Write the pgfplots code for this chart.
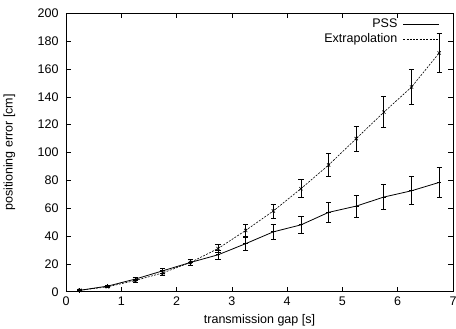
\documentclass[border=0pt]{standalone}
\usepackage{fontspec}
\setmainfont{Liberation Sans}
\usepackage{pgfplots}
\usepackage{pgfplotstable}
\pgfplotsset{compat=1.18}
\pgfplotstableread{
x y e
0.25 1 0.4
0.75 4 0.6
1.25 9 1
1.75 15 1.6
2.25 21 2
2.75 26.5 3.5
3.25 34.5 4.5
3.75 43 5.5
4.25 48 6
4.75 57 7.3
5.25 61.5 8
5.75 68 9
6.25 72.5 10
6.75 78.5 10.5
}\pss
\pgfplotstableread{
x y e
0.25 1 0.4
0.75 3.5 0.6
1.25 8 1
1.75 13.5 1.5
2.25 21 2
2.75 31 3
3.25 44 4
3.75 58 5
4.25 74 6.5
4.75 91 8
5.25 110 9
5.75 129 11
6.25 147 12.5
6.75 171.5 14
}\extra
\begin{document}
\begin{tikzpicture}[font=\fontsize{12.5}{15}\selectfont]
\begin{axis}[
  scale only axis, width=387pt, height=278.4pt,
  xmin=0, xmax=7, ymin=0, ymax=200,
  xtick={0,1,...,7}, ytick={0,20,...,200},
  tick align=inside, major tick length=5pt,
  tick style={black, line width=0.6pt},
  axis line style={black, line width=0.7pt},
  /pgf/number format/assume math mode=true,
  y tick label style={xshift=-4pt},
  x tick label style={yshift=-2pt},
  xlabel={transmission gap [s]},
  ylabel={positioning error [cm]},
  xlabel style={at={(axis description cs:0.5,-0.113)}, anchor=base},
  ylabel style={at={(axis description cs:-0.146,0.5)}, anchor=center},
  legend style={at={(0.966,0.987)}, anchor=north east, draw=none, fill=none,
    inner sep=0pt, nodes={text height=9pt, text depth=2.5pt, inner sep=1.5pt},
    row sep=0.5pt, column sep=4pt},
  legend cell align=right,
  legend plot pos=right,
  legend image code/.code={\draw[#1] (0pt,0pt) -- (36pt,0pt);},
]
\addplot[black, line width=0.8pt, mark=+, mark size=2.3pt, mark options={solid},
  error bars/.cd, y dir=both, y explicit,
  error bar style={line width=0.8pt, solid},
  error mark options={rotate=90, mark size=2.6pt, line width=0.8pt, solid}]
  table[x=x, y=y, y error=e] {\pss};
\addlegendentry{PSS}
\addplot[black, line width=0.6pt, dash pattern=on 2pt off 1.3pt, mark=x, mark size=2.3pt, mark options={solid},
  error bars/.cd, y dir=both, y explicit,
  error bar style={line width=0.8pt, solid},
  error mark options={rotate=90, mark size=2.6pt, line width=0.8pt, solid}]
  table[x=x, y=y, y error=e] {\extra};
\addlegendentry{Extrapolation}
\end{axis}
\pgfresetboundingbox
\path[use as bounding box] ([xshift=-66pt,yshift=-37.3pt]current axis.south west) rectangle ([xshift=3pt,yshift=13.3pt]current axis.north east);
\end{tikzpicture}
\end{document}
